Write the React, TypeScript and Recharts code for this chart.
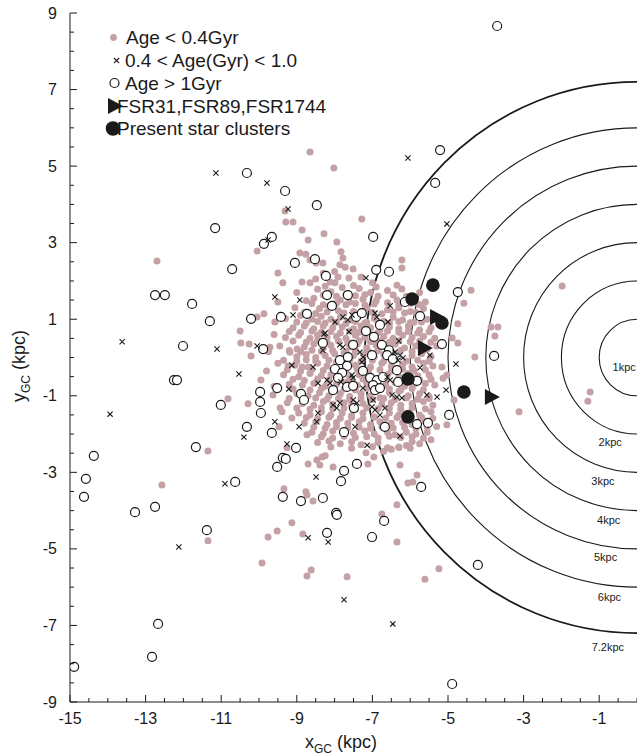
import React from 'react';
import {
  ScatterChart, Scatter, XAxis, YAxis, ReferenceArea, ReferenceDot, Legend
} from 'recharts';

const PINK = '#c4a1a4';
const INK = '#1a1a1a';
const FONT = '"Liberation Sans", Arial, Helvetica, sans-serif';

// rings of constant galactocentric distance
const ringRadii = [1, 2, 3, 4, 5, 6, 7.2];
const ringLabels = ['1kpc', '2kpc', '3kpc', '4kpc', '5kpc', '6kpc', '7.2kpc'];
const ringLabelX = [-0.34, -0.71, -0.9, -0.75, -0.83, -0.73, -0.77];
const ringLabelY = [-0.25, -2.21, -3.23, -4.24, -5.21, -6.26, -7.56];

const xTicks = [-15, -14.5, -14, -13.5, -13, -12.5, -12, -11.5, -11, -10.5, -10, -9.5, -9, -8.5, -8, -7.5,
  -7, -6.5, -6, -5.5, -5, -4.5, -4, -3.5, -3, -2.5, -2, -1.5, -1, -0.5, 0];
const xLabels = [-15, -13, -11, -9, -7, -5, -3, -1];
const yTicks = [-9, -8.5, -8, -7.5, -7, -6.5, -6, -5.5, -5, -4.5, -4, -3.5, -3, -2.5, -2, -1.5, -1, -0.5,
  0, 0.5, 1, 1.5, 2, 2.5, 3, 3.5, 4, 4.5, 5, 5.5, 6, 6.5, 7, 7.5, 8, 8.5, 9];
const yLabels = [-9, -7, -5, -3, -1, 1, 3, 5, 7, 9];

// Age < 0.4 Gyr
const youngStars = [
  [-12.70, 2.52], [-12.57, -3.33], [-11.35, -2.44], [-11.35, -4.79],
  [-8.65, 5.37], [-9.31, 3.83], [-9.29, 3.54], [-9.10, 3.54], [-8.86, 3.33], [-8.70, 3.07], [-8.28, 3.23],
  [-10.05, 2.78], [-9.50, 2.21], [-9.37, 1.95], [-8.92, 2.73], [-8.76, 2.70], [-8.65, 2.55], [-8.49, 2.47],
  [-8.31, 2.47], [-8.86, 1.97], [-8.65, 1.95], [-8.02, 4.95], [-7.28, 3.62], [-7.94, 3.02], [-7.83, 2.76],
  [-7.78, 2.60], [-7.86, 2.42], [-7.72, 2.36], [-7.51, 2.31], [-7.62, 2.08], [-6.22, 2.55], [-6.22, 2.34],
  [-8.12, 1.97], [-7.99, 1.95], [-7.91, 2.10], [-6.35, 1.89], [-6.22, 1.79],
  [-10.05, 1.06], [-9.87, 1.14], [-9.58, 0.93], [-10.50, 0.69], [-10.48, 0.38], [-10.26, 0.35], [-9.71, 0.27],
  [-10.21, 0.04], [-9.18, 0.14], [-8.99, 0.22], [-9.23, -0.22], [-8.86, -0.25], [-9.95, -0.59], [-9.63, -0.98],
  [-10.82, -1.08], [-10.29, -1.21], [-9.44, -1.32], [-9.39, -1.42], [-9.13, -1.58], [-9.47, -1.81], [-8.73, -2.02],
  [-9.26, -2.36], [-8.70, -2.78], [-8.47, -2.68], [-8.33, -2.60], [-8.25, -2.57], [-8.39, -2.81], [-9.34, -3.43],
  [-8.76, -3.51], [-8.73, -3.59], [-8.57, -3.75], [-9.13, -4.32], [-9.52, -4.53], [-9.76, -4.69], [-8.84, -4.61],
  [-9.92, -5.37], [-8.62, -5.55], [-8.73, -5.71],
  [-7.17, -2.49], [-6.96, -2.60], [-7.12, -2.78], [-8.04, -2.86], [-6.27, -2.81], [-5.82, -3.07], [-6.06, -3.28],
  [-5.93, -3.25], [-6.35, -3.85], [-6.75, -4.09], [-6.35, -4.82], [-7.67, -5.73], [-5.24, -5.52], [-5.61, -5.79],
  [-4.39, 1.76], [-4.58, 1.42], [-1.98, 1.87], [-4.74, 0.88], [-3.86, 0.80], [-3.68, 0.80], [-3.76, 0.56],
  [-4.89, 0.51], [-4.74, 0.38], [-4.29, 0.01], [-5.16, -0.25], [-5.03, -0.46], [-5.13, -0.54], [-4.84, -1.11],
  [-5.03, -1.76], [-3.12, -1.42], [-1.24, -0.90], [-1.30, -1.14],
  [-6.7, -2.45], [-6.5, -2.4], [-6.3, -2.35], [-6.1, -2.3], [-5.95, -2.2],
  [-8.3, 2.2], [-8.0, 2.25], [-7.3, 2.1], [-7.0, 1.95], [-8.5, 2.05], [-9.0, 1.7], [-9.5, 1.45], [-9.6, 0.6],
  [-9.75, 0.15], [-9.8, -0.35], [-9.6, -0.75],
  // dense core
  [-8.45, 1.78], [-8.1, 1.72], [-7.35, 1.8], [-7.05, 1.7], [-6.6, 1.75], [-5.75, 1.7],
  [-8.75, 1.48], [-8.55, 1.55], [-7.85, 1.5], [-7.6, 1.45], [-7.25, 1.52], [-6.9, 1.48], [-6.35, 1.5], [-5.6, 1.45],
  [-9.05, 1.3], [-8.4, 1.28], [-8.15, 1.35], [-7.9, 1.22], [-7.15, 1.3], [-6.6, 1.25], [-6.3, 1.3], [-6.0, 1.2], [-5.65, 1.28],
  [-9.3, 1.02], [-8.9, 1.1], [-8.6, 1.0], [-8.35, 1.08], [-8.1, 1.0], [-7.85, 1.05], [-7.55, 0.98], [-7.15, 0.92],
  [-6.95, 1.02], [-6.7, 0.95], [-6.45, 1.05], [-6.2, 0.98], [-5.9, 0.92], [-5.55, 1.0],
  [-9.1, 0.78], [-8.8, 0.82], [-8.55, 0.75], [-8.3, 0.82], [-8.05, 0.78], [-7.8, 0.8], [-7.5, 0.75], [-7.3, 0.82],
  [-7.05, 0.78], [-6.8, 0.72], [-6.55, 0.8], [-6.3, 0.75], [-6.05, 0.82], [-5.75, 0.72], [-5.45, 0.78],
  [-9.3, 0.52], [-8.95, 0.58], [-8.65, 0.5], [-8.45, 0.58], [-8.2, 0.52], [-7.95, 0.55], [-7.7, 0.5], [-7.45, 0.58],
  [-7.2, 0.52], [-6.95, 0.45], [-6.7, 0.55], [-6.45, 0.5], [-6.2, 0.58], [-5.95, 0.52], [-5.65, 0.55], [-5.35, 0.5],
  [-9.45, 0.3], [-8.8, 0.28], [-8.55, 0.35], [-8.3, 0.25], [-8.1, 0.32], [-7.6, 0.28], [-7.4, 0.35], [-7.15, 0.25],
  [-6.9, 0.32], [-6.65, 0.28], [-6.4, 0.35], [-6.15, 0.25], [-5.85, 0.3], [-5.55, 0.22], [-5.3, 0.3],
  [-9.0, 0.02], [-8.75, 0.08], [-8.5, 0.0], [-8.25, 0.05], [-8.0, 0.1], [-7.75, 0.12], [-7.5, 0.05], [-7.2, 0.1],
  [-6.95, 0.02], [-6.7, 0.08], [-6.45, 0.12], [-5.95, 0.05], [-5.7, 0.1], [-5.45, 0.02],
  [-9.5, -0.15], [-9.05, -0.2], [-8.7, -0.25], [-8.45, -0.15], [-8.2, -0.22], [-7.95, -0.12], [-7.45, -0.2],
  [-7.05, -0.25], [-6.75, -0.15], [-6.5, -0.22], [-6.2, -0.18], [-5.95, -0.25], [-5.65, -0.15], [-5.4, -0.22],
  [-9.35, -0.45], [-8.95, -0.5], [-8.65, -0.42], [-8.35, -0.48], [-8.1, -0.45], [-7.6, -0.52], [-7.35, -0.45],
  [-7.15, -0.55], [-6.6, -0.45], [-6.3, -0.5], [-6.05, -0.42], [-5.8, -0.48], [-5.5, -0.45],
  [-9.2, -0.7], [-8.85, -0.72], [-8.55, -0.68], [-8.25, -0.75], [-7.95, -0.7], [-7.7, -0.65], [-7.4, -0.72],
  [-7.15, -0.68], [-6.65, -0.72], [-6.4, -0.65], [-6.15, -0.75], [-5.9, -0.7], [-5.6, -0.68], [-5.35, -0.72],
  [-9.0, -0.95], [-8.7, -1.0], [-8.4, -0.92], [-8.15, -1.0], [-7.85, -0.95], [-7.6, -1.02], [-7.3, -0.95],
  [-7.05, -1.0], [-6.8, -1.05], [-6.55, -0.92], [-6.3, -0.88], [-6.05, -1.0], [-5.75, -0.95], [-5.5, -1.02],
  [-9.25, -1.18], [-8.85, -1.2], [-8.55, -1.25], [-8.3, -1.15], [-8.05, -1.22], [-7.75, -1.18], [-7.55, -1.25],
  [-7.25, -1.2], [-6.75, -1.22], [-6.5, -1.18], [-6.25, -1.25], [-5.95, -1.2], [-5.65, -1.15], [-5.4, -1.25],
  [-8.95, -1.45], [-8.65, -1.5], [-8.35, -1.42], [-8.1, -1.5], [-7.8, -1.45], [-7.55, -1.52], [-7.25, -1.45],
  [-6.95, -1.55], [-6.55, -1.45], [-6.3, -1.5], [-6.05, -1.45], [-5.75, -1.5], [-5.45, -1.42],
  [-8.8, -1.72], [-8.5, -1.68], [-8.2, -1.75], [-7.95, -1.7], [-7.65, -1.72], [-7.35, -1.68], [-7.05, -1.75],
  [-6.8, -1.68], [-6.5, -1.72], [-6.2, -1.7], [-5.95, -1.75], [-5.6, -1.68], [-5.3, -1.8],
  [-8.6, -1.95], [-8.3, -2.0], [-8.05, -1.92], [-7.5, -1.98], [-7.2, -1.92], [-6.95, -2.0], [-6.6, -1.95],
  [-6.4, -2.02], [-6.1, -1.95], [-5.85, -2.0], [-5.55, -1.95],
  [-8.45, -2.22], [-8.15, -2.18], [-7.85, -2.25], [-7.55, -2.2], [-7.3, -2.28], [-6.85, -2.22], [-5.75, -2.25], [-5.45, -2.15],
  // second, interleaved layer of the core
  [-8.25, 1.86], [-7.8, 1.83], [-7.5, 1.88], [-6.9, 1.84],
  [-8.3, 1.63], [-7.95, 1.6], [-7.7, 1.65], [-7.45, 1.61], [-7.2, 1.64], [-6.85, 1.6], [-6.45, 1.63], [-6.1, 1.6],
  [-8.6, 1.41], [-8.3, 1.38], [-7.95, 1.42], [-7.7, 1.38], [-7.45, 1.41], [-7.2, 1.37], [-6.95, 1.4], [-6.6, 1.43],
  [-6.3, 1.38], [-6.0, 1.41], [-5.75, 1.38],
  [-8.8, 1.18], [-8.5, 1.15], [-8.2, 1.19], [-7.75, 1.16], [-7.5, 1.2], [-7.25, 1.15], [-7.0, 1.18], [-6.75, 1.14],
  [-6.45, 1.19], [-6.15, 1.16], [-5.85, 1.18],
  [-9.0, 0.93], [-8.75, 0.9], [-8.45, 0.94], [-8.25, 0.9], [-7.95, 0.92], [-7.7, 0.89], [-7.45, 0.94], [-7.2, 0.9],
  [-6.85, 0.93], [-6.55, 0.9], [-6.3, 0.94], [-6.0, 0.91], [-5.7, 0.93],
  [-9.2, 0.68], [-8.9, 0.65], [-8.6, 0.69], [-8.35, 0.66], [-8.1, 0.68], [-7.85, 0.64], [-7.6, 0.69], [-7.35, 0.66],
  [-7.1, 0.68], [-6.85, 0.65], [-6.6, 0.69], [-6.3, 0.66], [-6.05, 0.68], [-5.8, 0.64], [-5.5, 0.67],
  [-9.1, 0.43], [-8.75, 0.4], [-8.45, 0.44], [-8.2, 0.41], [-7.9, 0.43], [-7.65, 0.4], [-7.35, 0.44], [-7.05, 0.41],
  [-6.8, 0.43], [-6.55, 0.4], [-6.3, 0.44], [-6.0, 0.41], [-5.75, 0.43], [-5.45, 0.4],
  [-9.2, 0.18], [-8.9, 0.15], [-8.6, 0.19], [-8.35, 0.16], [-8.05, 0.18], [-7.7, 0.15], [-7.45, 0.19], [-7.1, 0.16],
  [-6.85, 0.18], [-6.55, 0.15], [-6.25, 0.19], [-5.95, 0.16], [-5.65, 0.18],
  [-9.35, -0.07], [-9.0, -0.1], [-8.75, -0.06], [-8.5, -0.09], [-8.15, -0.07], [-7.85, -0.1], [-7.6, -0.06],
  [-7.3, -0.09], [-7.0, -0.07], [-6.7, -0.1], [-6.4, -0.06], [-6.1, -0.09], [-5.8, -0.07], [-5.5, -0.1],
  [-9.25, -0.32], [-8.9, -0.35], [-8.6, -0.31], [-8.3, -0.34], [-8.05, -0.32], [-7.7, -0.35], [-7.4, -0.31],
  [-7.1, -0.34], [-6.8, -0.32], [-6.5, -0.35], [-6.2, -0.31], [-5.9, -0.34], [-5.6, -0.32],
  [-9.1, -0.57], [-8.8, -0.6], [-8.45, -0.56], [-8.15, -0.59], [-7.85, -0.57], [-7.55, -0.6], [-7.25, -0.56],
  [-6.95, -0.59], [-6.65, -0.57], [-6.35, -0.6], [-6.05, -0.56], [-5.75, -0.59], [-5.45, -0.57],
  [-9.1, -0.82], [-8.65, -0.85], [-8.35, -0.81], [-8.05, -0.84], [-7.75, -0.82], [-7.45, -0.85], [-7.15, -0.81],
  [-6.85, -0.84], [-6.55, -0.82], [-6.25, -0.85], [-5.95, -0.81], [-5.65, -0.84],
  [-9.2, -1.07], [-8.85, -1.1], [-8.5, -1.06], [-8.2, -1.09], [-7.9, -1.07], [-7.6, -1.1], [-7.3, -1.06],
  [-7.0, -1.09], [-6.7, -1.07], [-6.4, -1.1], [-6.1, -1.06], [-5.8, -1.09], [-5.5, -1.07],
  [-9.0, -1.32], [-8.65, -1.35], [-8.35, -1.31], [-8.05, -1.34], [-7.75, -1.32], [-7.45, -1.35], [-7.15, -1.31],
  [-6.85, -1.34], [-6.55, -1.32], [-6.25, -1.35], [-5.95, -1.31], [-5.6, -1.34],
  [-8.75, -1.57], [-8.45, -1.6], [-8.15, -1.56], [-7.85, -1.59], [-7.55, -1.57], [-7.25, -1.6], [-6.95, -1.56],
  [-6.65, -1.59], [-6.35, -1.57], [-6.05, -1.6], [-5.7, -1.56], [-5.4, -1.59],
  [-8.55, -1.82], [-8.25, -1.85], [-7.95, -1.81], [-7.65, -1.84], [-7.35, -1.82], [-7.05, -1.85], [-6.75, -1.81],
  [-6.45, -1.84], [-6.15, -1.82], [-5.85, -1.85], [-5.55, -1.81],
  [-8.35, -2.07], [-8.05, -2.1], [-7.75, -2.06], [-7.45, -2.09], [-7.15, -2.07], [-6.85, -2.1], [-6.55, -2.06],
  [-6.25, -2.09], [-5.95, -2.07], [-5.65, -2.1],
  [-8.1, -2.34], [-7.55, -2.37], [-7.0, -2.33], [-6.6, -2.36], [-6.3, -2.34], [-6.0, -2.37],
];

// 0.4 < Age(Gyr) < 1.0
const midStars = [
  [-13.62, 0.41], [-13.94, -1.48], [-12.12, -4.95], [-11.14, 4.82], [-9.79, 4.56], [-9.23, 3.88], [-9.76, 3.07],
  [-6.06, 5.21], [-5.03, 3.49], [-7.17, 2.08], [-9.58, 1.58], [-8.92, 1.50], [-9.10, 1.11], [-11.11, 0.22],
  [-10.05, 0.30], [-8.28, 0.61], [-10.53, -0.43], [-9.13, -0.20], [-8.57, -0.25], [-9.21, -0.82], [-8.44, -0.67],
  [-9.58, -1.68], [-10.40, -2.08], [-8.94, -1.81], [-8.47, -1.68], [-8.44, -1.45], [-9.26, -2.26], [-8.49, -3.12],
  [-10.90, -3.30], [-8.70, -4.71], [-8.17, -4.82], [-7.14, -2.29], [-6.27, -2.05], [-7.75, -6.33], [-6.46, -6.96],
  [-4.79, -0.17], [-5.05, -0.85],
  [-6.53, 1.35], [-7.78, 1.06], [-7.65, 0.98], [-7.54, 1.11], [-7.99, 0.93], [-6.93, 1.16], [-6.88, 1.06],
  [-6.59, 0.93], [-8.25, 0.64], [-7.62, 0.67], [-7.33, 0.14], [-7.25, 0.01], [-7.28, -0.12], [-7.86, 0.33],
  [-7.78, 0.27], [-6.30, 0.43], [-6.40, 0.14], [-6.27, 0.06], [-6.32, -0.07], [-6.19, -0.01], [-5.74, -0.27],
  [-5.48, 0.06], [-6.61, -0.51], [-6.53, -0.59], [-8.20, -0.59], [-8.12, -0.67], [-7.83, -0.64], [-7.54, -0.46],
  [-7.51, -0.53], [-7.25, -0.80], [-6.48, -0.98], [-6.35, -1.03], [-6.22, -1.06], [-5.56, -0.98], [-5.29, -1.03],
  [-8.04, -1.24], [-7.94, -1.32], [-7.86, -1.19], [-7.51, -1.11], [-7.41, -1.19], [-6.98, -1.11], [-7.01, -1.29],
  [-6.93, -1.37], [-6.80, -1.50], [-6.67, -1.32], [-7.46, -1.81], [-8.31, 0.19],
];

// Age > 1 Gyr
const oldStars = [
  [-12.75, 1.63], [-12.49, 1.63], [-11.77, 1.40], [-11.30, 0.95], [-12.01, 0.30], [-12.25, -0.59], [-12.17, -0.59],
  [-11.67, -2.34], [-14.37, -2.57], [-14.58, -3.17], [-14.63, -3.64], [-13.28, -4.04], [-12.75, -3.90],
  [-11.38, -4.51], [-12.67, -6.96], [-12.83, -7.82], [-14.89, -8.08],
  [-10.32, 4.82], [-9.31, 4.35], [-8.47, 3.98], [-11.16, 3.38], [-9.66, 3.15], [-9.87, 2.97], [-10.71, 2.31],
  [-9.05, 2.47], [-8.52, 2.57], [-8.23, 2.13], [-5.21, 5.42], [-5.34, 4.56], [-6.98, 3.15], [-6.90, 2.29],
  [-6.56, 2.24], [-3.70, 8.66],
  [-10.21, 1.01], [-9.42, 1.06], [-8.73, 1.14], [-9.89, 0.22], [-8.31, 0.38], [-9.52, -0.80], [-9.97, -0.90],
  [-8.89, -0.95], [-8.81, -1.11], [-11.01, -1.24], [-9.97, -1.16], [-9.95, -1.45], [-10.32, -1.81], [-9.66, -1.97],
  [-9.02, -2.36], [-9.37, -2.62], [-9.29, -2.65], [-9.52, -2.86], [-10.63, -3.25], [-9.37, -3.64], [-8.89, -3.75],
  [-8.31, -3.67], [-8.20, -4.58], [-7.75, -1.95], [-7.41, -2.78], [-7.75, -2.96], [-7.83, -3.23], [-5.71, -3.38],
  [-7.96, -4.06], [-7.94, -4.11], [-6.69, -4.27], [-7.01, -4.69], [-4.89, -8.53], [-4.21, -5.42],
  [-4.74, 1.71], [-5.16, 0.35], [-3.78, 0.04], [-4.97, -1.50],
  [-8.20, 1.63], [-7.65, 1.63], [-8.07, 1.35], [-6.14, 1.45], [-5.74, 1.08], [-7.43, 1.06], [-7.28, 1.16],
  [-6.80, 0.85], [-7.17, 0.69], [-6.96, 0.54], [-7.51, 0.33], [-6.75, 0.33], [-6.56, 0.19], [-6.61, 0.06],
  [-6.46, -0.04], [-7.01, 0.06], [-7.86, -0.07], [-7.65, 0.01], [-7.67, -0.22], [-7.99, -0.30], [-7.80, -0.40],
  [-7.91, -0.53], [-7.25, -0.35], [-6.35, -0.33], [-7.06, -0.53], [-6.88, -0.59], [-6.98, -0.72], [-6.72, -0.51],
  [-7.67, -0.77], [-7.51, -0.74], [-8.04, -0.85], [-6.93, -0.85], [-6.80, -0.80], [-6.32, -0.64], [-5.82, -0.61],
  [-7.49, -1.32], [-6.67, -1.81], [-5.53, -1.71], [-5.82, -1.74],
];

// FSR31, FSR89, FSR1744
const fsrClusters = [[-5.29, 1.06], [-5.61, 0.25], [-3.84, -1.03]];
// present star clusters
const presentClusters = [[-5.40, 1.89], [-5.95, 1.53], [-5.16, 0.90], [-6.06, -0.56], [-6.06, -1.55], [-4.58, -0.90]];

const toPts = (arr: number[][]) => arr.map(([x, y]) => ({ x, y }));

const YoungDot = (p: any) => <circle cx={p.cx} cy={p.cy} r={3.5} fill={PINK} />;
const OldDot = (p: any) => <circle cx={p.cx} cy={p.cy} r={4.5} fill="#fff" stroke={INK} strokeWidth={1.2} />;
const Cross = (p: any) => {
  const s = 2.6;
  return (
    <path
      d={`M${p.cx - s},${p.cy - s}L${p.cx + s},${p.cy + s}M${p.cx - s},${p.cy + s}L${p.cx + s},${p.cy - s}`}
      stroke={INK} strokeWidth={1.1}
    />
  );
};
const Tri = (p: any) => (
  <polygon points={`${p.cx - 7},${p.cy - 8} ${p.cx + 8},${p.cy} ${p.cx - 7},${p.cy + 8}`} fill={INK} />
);
const BigDot = (p: any) => <circle cx={p.cx} cy={p.cy} r={6.8} fill={INK} />;

// ticks point inwards; odd integers get a label and a longer tick
const BottomTick = ({ x, y, payload }: any) => {
  const major = xLabels.includes(payload.value);
  return (
    <g>
      <line x1={x} x2={x} y1={y} y2={y - (major ? 7 : 4)} stroke={INK} />
      {major && <text x={x} y={y + 16} dy="0.35em" textAnchor="middle" fontSize={16} fill={INK}>{payload.value}</text>}
    </g>
  );
};
const TopTick = ({ x, y, payload }: any) => {
  const major = xLabels.includes(payload.value);
  return <line x1={x} x2={x} y1={y} y2={y + (major ? 7 : 4)} stroke={INK} />;
};
const LeftTick = ({ x, y, payload }: any) => {
  const major = yLabels.includes(payload.value);
  return (
    <g>
      <line x1={x} x2={x + (major ? 7 : 4)} y1={y} y2={y} stroke={INK} />
      {major && <text x={x - 13} y={y} dy="0.35em" textAnchor="end" fontSize={16} fill={INK}>{payload.value}</text>}
    </g>
  );
};
const RightTick = ({ x, y, payload }: any) => {
  const major = yLabels.includes(payload.value);
  return <line x1={x} x2={x - (major ? 7 : 4)} y1={y} y2={y} stroke={INK} />;
};

const XLabel = () => (
  <text x={341} y={742} dy="0.35em" textAnchor="middle" fontSize={18} fill={INK}>
    x<tspan dy={5} fontSize={12}>GC</tspan><tspan dy={-5}> (kpc)</tspan>
  </text>
);
const YLabel = () => (
  <text x={0} y={0} transform="translate(19,366) rotate(-90)" dy="0.35em" textAnchor="middle" fontSize={18} fill={INK}>
    y<tspan dy={5} fontSize={12}>GC</tspan><tspan dy={-5}> (kpc)</tspan>
  </text>
);

const LegendBox = () => (
  <svg width={340} height={150} style={{ display: 'block', fontFamily: FONT }}>
    <circle cx={113.5} cy={37.5} r={3.4} fill={PINK} />
    <text x={126} y={44} fontSize={19} fill={INK}>Age &lt; 0.4Gyr</text>
    <path d="M113.9,58 L119.1,63.2 M113.9,63.2 L119.1,58" stroke={INK} strokeWidth={1.1} />
    <text x={125} y={67} fontSize={19} fill={INK}>0.4 &lt; Age(Gyr) &lt; 1.0</text>
    <circle cx={114.5} cy={83} r={4.5} fill="#fff" stroke={INK} strokeWidth={1.2} />
    <text x={125} y={89.5} fontSize={19} fill={INK}>Age &gt; 1Gyr</text>
    <polygon points="108,98 123,106 108,114" fill={INK} />
    <text x={117} y={113} fontSize={19} fill={INK}>FSR31,FSR89,FSR1744</text>
    <circle cx={113} cy={128.5} r={7.3} fill={INK} />
    <text x={117} y={135} fontSize={19} fill={INK}>Present star clusters</text>
  </svg>
);

export default function App() {
  return (
    <div style={{ position: 'absolute', left: 0, top: 0, fontFamily: FONT, background: '#fff' }}>
      <ScatterChart width={637} height={756} margin={{ top: 13, right: 0, bottom: 0, left: 0 }}>
        <XAxis
          xAxisId="b" type="number" dataKey="x" domain={[-15, 0]} ticks={xTicks} interval={0}
          allowDataOverflow height={54} tickSize={0} tickMargin={0} tickLine={false}
          axisLine={{ stroke: INK }} tick={<BottomTick />} label={{ content: <XLabel /> }}
        />
        <XAxis
          xAxisId="t" orientation="top" type="number" dataKey="x" domain={[-15, 0]} ticks={xTicks} interval={0}
          allowDataOverflow height={0} tickSize={0} tickMargin={0} tickLine={false}
          axisLine={{ stroke: INK }} tick={<TopTick />}
        />
        <YAxis
          yAxisId="l" type="number" dataKey="y" domain={[-9, 9]} ticks={yTicks} interval={0}
          allowDataOverflow width={70} tickSize={0} tickMargin={0} tickLine={false}
          axisLine={{ stroke: INK }} tick={<LeftTick />} label={{ content: <YLabel /> }}
        />
        <YAxis
          yAxisId="r" orientation="right" type="number" dataKey="y" domain={[-9, 9]} ticks={yTicks} interval={0}
          allowDataOverflow width={0} tickSize={0} tickMargin={0} tickLine={false}
          axisLine={{ stroke: INK }} tick={<RightTick />}
        />
        {ringRadii.map((r) => (
          <ReferenceArea
            key={r} xAxisId="b" yAxisId="l" x1={-r} x2={r} y1={-r} y2={r} ifOverflow="visible"
            shape={(p: any) => (
              <ellipse
                cx={p.x + p.width / 2} cy={p.y + p.height / 2} rx={p.width / 2} ry={p.height / 2}
                fill="none" stroke={INK} strokeWidth={r === 7.2 ? 1.8 : 1.1}
              />
            )}
          />
        ))}
        {ringLabels.map((t, i) => (
          <ReferenceDot
            key={t} xAxisId="b" yAxisId="l" x={ringLabelX[i]} y={ringLabelY[i]} r={0} ifOverflow="visible"
            shape={(p: any) => (
              <text x={p.cx} y={p.cy} dy="0.35em" textAnchor="middle" fontSize={11} fill={INK}>{t}</text>
            )}
          />
        ))}
        <Scatter xAxisId="b" yAxisId="l" data={toPts(youngStars)} shape={YoungDot} isAnimationActive={false} />
        <Scatter xAxisId="b" yAxisId="l" data={toPts(oldStars)} shape={OldDot} isAnimationActive={false} />
        <Scatter xAxisId="b" yAxisId="l" data={toPts(midStars)} shape={Cross} isAnimationActive={false} />
        <Scatter xAxisId="b" yAxisId="l" data={toPts(fsrClusters)} shape={Tri} isAnimationActive={false} />
        <Scatter xAxisId="b" yAxisId="l" data={toPts(presentClusters)} shape={BigDot} isAnimationActive={false} />
        <Legend
          layout="vertical" align="center" verticalAlign="middle"
          wrapperStyle={{ position: 'absolute', left: 0, top: 0, width: 340, height: 150 }}
          content={() => <LegendBox />}
        />
      </ScatterChart>
    </div>
  );
}
